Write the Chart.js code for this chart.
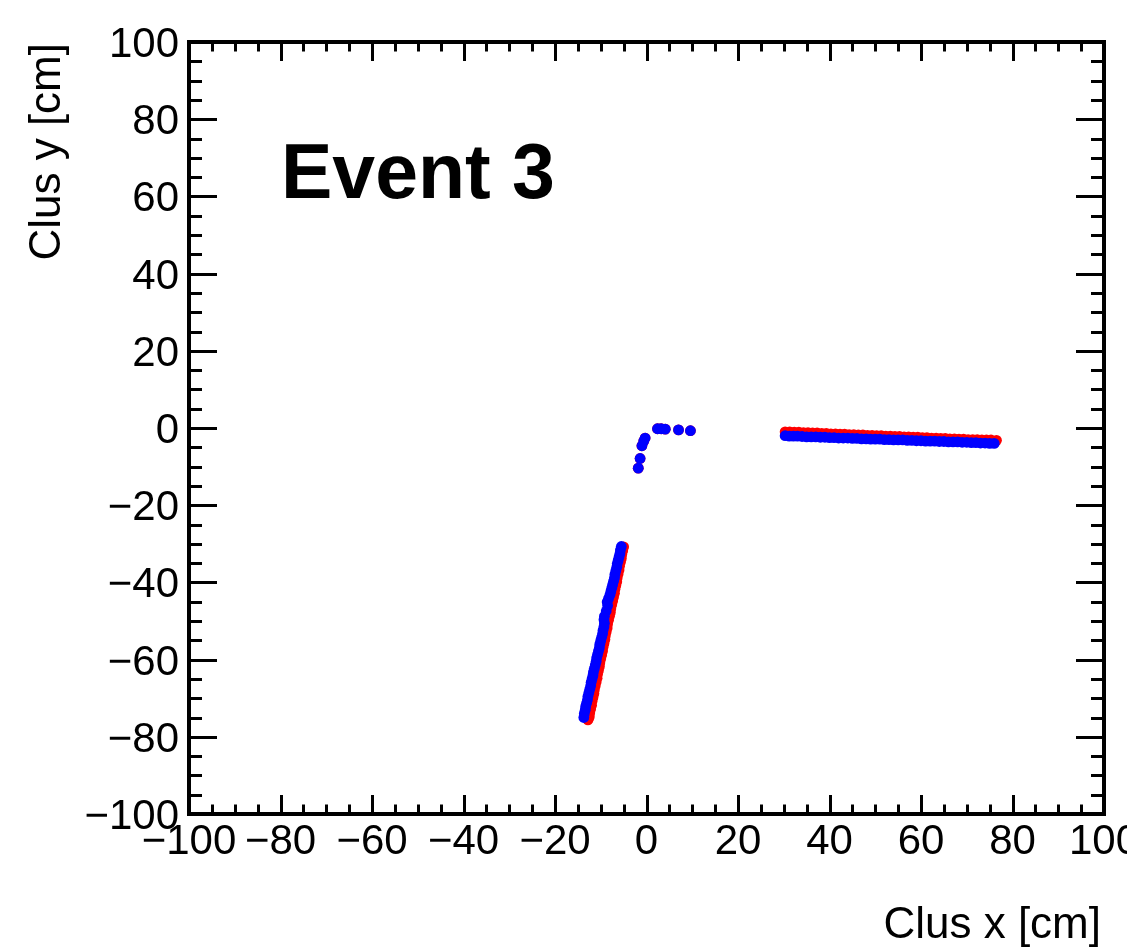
<!DOCTYPE html>
<html>
<head>
<meta charset="utf-8">
<script src="https://cdn.jsdelivr.net/npm/chart.js@4/dist/chart.umd.min.js"></script>
<style>
  html, body { margin: 0; padding: 0; background: #ffffff; }
  #wrap { width: 1127px; height: 951px; position: relative; }
</style>
</head>
<body>
<div id="wrap"><canvas id="c" width="1127" height="951"></canvas></div>
<script>
// Cluster positions (cm): two straight tracks plus a short curled segment near the origin
const clusX = [
  // steep track, lower left
  -5.5, -5.7, -5.8, -6.0, -6.2, -6.4, -6.5, -6.7, -6.9, -7.0,
  -7.2, -7.4, -7.6, -7.8, -8.0, -8.3, -8.6, -8.5, -8.8, -9.2,
  -9.3, -9.2, -9.3, -9.5, -9.6, -9.8, -10.0, -10.2, -10.3, -10.5,
  -10.7, -10.9, -11.0, -11.2, -11.4, -11.6, -11.7, -11.9, -12.1, -12.2,
  -12.4, -12.6, -12.8, -12.9, -13.1, -13.3, -13.4, -13.6, -13.7,
  // curl near origin
  -1.8, -1.4, -1.0, -0.6, -0.3, 2.4, 3.2, 4.1, 7.0, 9.6,
  // flat track, right
  30.3, 31.2, 32.1, 33.0, 34.0, 35.0, 36.0, 37.0, 38.0, 39.0,
  40.0, 41.0, 42.0, 43.0, 44.0, 45.0, 46.0, 47.0, 48.0, 49.0,
  50.0, 51.0, 52.0, 53.0, 54.0, 55.0, 56.0, 57.0, 58.0, 59.0,
  60.0, 61.0, 62.0, 63.0, 64.0, 65.0, 66.0, 67.0, 68.0, 69.0,
  70.0, 71.0, 72.0, 73.0, 74.0, 75.0, 76.0
];
const clusY = [
  -30.7, -31.6, -32.5, -33.4, -34.3, -35.2, -36.1, -37.0, -37.9, -38.8,
  -39.7, -40.6, -41.5, -42.4, -43.3, -44.2, -45.1, -46.0, -47.4, -48.8,
  -49.7, -50.6, -51.5, -52.4, -53.3, -54.2, -55.1, -56.0, -56.9, -57.8,
  -58.7, -59.6, -60.5, -61.4, -62.3, -63.2, -64.1, -65.0, -65.9, -66.8,
  -67.7, -68.6, -69.5, -70.4, -71.3, -72.2, -73.1, -74.0, -75.0,
  -10.4, -7.9, -4.6, -3.4, -2.6, -0.2, -0.2, -0.3, -0.5, -0.7,
  -2.0, -2.1, -2.1, -2.1, -2.2, -2.3, -2.3, -2.3, -2.4, -2.4,
  -2.5, -2.5, -2.6, -2.6, -2.6, -2.7, -2.7, -2.8, -2.8, -2.9,
  -2.9, -2.9, -3.0, -3.0, -3.1, -3.1, -3.1, -3.2, -3.2, -3.3,
  -3.3, -3.4, -3.4, -3.4, -3.5, -3.5, -3.6, -3.6, -3.6, -3.7,
  -3.7, -3.8, -3.8, -3.9, -3.9, -4.0, -4.0
];

// True hit positions (cm)
const hitX = [
  -5.0, -5.2, -5.4, -5.5, -5.7, -5.9, -6.0, -6.2, -6.4, -6.5,
  -6.7, -6.9, -7.0, -7.2, -7.4, -7.6, -7.8, -7.9, -8.1, -8.3,
  -8.5, -8.6, -8.8, -9.0, -9.1, -9.3, -9.5, -9.6, -9.8, -10.0,
  -10.2, -10.3, -10.5, -10.7, -10.8, -11.0, -11.2, -11.4, -11.5, -11.7,
  -11.9, -12.0, -12.2, -12.4, -12.5, -12.7, -12.8,
  -1.8, -1.4, -1.0, -0.6, -0.3, 2.4, 3.2, 4.1, 7.0, 9.6,
  30.3, 31.3, 32.3, 33.3, 34.3, 35.3, 36.3, 37.3, 38.3, 39.3,
  40.3, 41.3, 42.3, 43.3, 44.3, 45.3, 46.3, 47.3, 48.3, 49.3,
  50.3, 51.3, 52.3, 53.3, 54.3, 55.3, 56.3, 57.3, 58.3, 59.3,
  60.3, 61.3, 62.3, 63.3, 64.3, 65.3, 66.3, 67.3, 68.3, 69.3,
  70.3, 71.3, 72.3, 73.3, 74.3, 75.3, 76.5
];
const hitY = [
  -30.8, -31.8, -32.8, -33.8, -34.8, -35.8, -36.8, -37.8, -38.8, -39.8,
  -40.8, -41.8, -42.8, -43.8, -44.8, -45.8, -46.8, -47.8, -48.8, -49.8,
  -50.8, -51.8, -52.8, -53.8, -54.8, -55.8, -56.8, -57.8, -58.8, -59.8,
  -60.8, -61.8, -62.8, -63.8, -64.8, -65.8, -66.8, -67.8, -68.8, -69.8,
  -70.8, -71.8, -72.8, -73.8, -74.8, -75.3, -75.6,
  -10.4, -7.9, -4.6, -3.4, -2.6, -0.2, -0.2, -0.3, -0.5, -0.7,
  -1.0, -1.0, -1.1, -1.1, -1.2, -1.2, -1.3, -1.3, -1.4, -1.4,
  -1.5, -1.5, -1.6, -1.6, -1.7, -1.7, -1.8, -1.8, -1.9, -1.9,
  -2.0, -2.0, -2.1, -2.1, -2.2, -2.2, -2.3, -2.3, -2.4, -2.4,
  -2.5, -2.5, -2.6, -2.6, -2.7, -2.7, -2.8, -2.8, -2.9, -2.9,
  -3.0, -3.0, -3.0, -3.1, -3.1, -3.1, -3.2
];

// Raw readout hits (cm), drawn small underneath
const rawX = [
  -4.6, -5.3, -6.0, -6.7, -7.4, -8.1, -8.8, -9.5, -10.2, -10.9, -11.6, -12.3,
  44.0, 48.0, 52.0, 56.0, 60.0, 64.0, 68.0, 72.0, 76.2
];
const rawY = [
  -31.2, -35.0, -38.8, -42.6, -46.4, -50.2, -54.0, -57.8, -61.6, -65.4, -69.2, -73.0,
  -1.4, -1.6, -1.7, -1.9, -2.1, -2.3, -2.4, -2.6, -2.8
];

const xTicks = [-100, -80, -60, -40, -20, 0, 20, 40, 60, 80, 100];
const yTicks = [-100, -80, -60, -40, -20, 0, 20, 40, 60, 80, 100];
const minorStep = 5;
const xTitle = 'Clus x [cm]';
const yTitle = 'Clus y [cm]';
const eventLabel = 'Event 3';

const toPoints = (xs, ys) => xs.map((x, i) => ({ x: x, y: ys[i] }));
const fmt = v => (v < 0 ? '\u2212' + Math.abs(v) : String(v));

// Frame, inward ticks on all four sides, tick labels and axis titles
const framePlugin = {
  id: 'rootFrame',
  afterDatasetsDraw(chart) {
    const ctx = chart.ctx;
    const a = chart.chartArea;
    const sx = chart.scales.x, sy = chart.scales.y;
    ctx.save();
    ctx.strokeStyle = '#000';
    ctx.fillStyle = '#000';

    // ticks
    ctx.lineWidth = 3;
    ctx.beginPath();
    for (let v = sx.min; v <= sx.max + 1e-9; v += minorStep) {
      const px = Math.round(sx.getPixelForValue(v)) + 0.5;
      const len = (v % 20 === 0) ? 19 : 9.5;
      ctx.moveTo(px, a.bottom); ctx.lineTo(px, a.bottom - len);
      ctx.moveTo(px, a.top); ctx.lineTo(px, a.top + len);
    }
    for (let v = sy.min; v <= sy.max + 1e-9; v += minorStep) {
      const py = Math.round(sy.getPixelForValue(v)) + 0.5;
      const len = (v % 20 === 0) ? 28 : 13;
      ctx.moveTo(a.left, py); ctx.lineTo(a.left + len, py);
      ctx.moveTo(a.right, py); ctx.lineTo(a.right - len, py);
    }
    ctx.stroke();

    // frame
    ctx.lineWidth = 4;
    ctx.strokeRect(a.left, a.top, a.right - a.left, a.bottom - a.top);

    // tick labels
    ctx.font = '42px "Liberation Sans", Arial, Helvetica, sans-serif';
    ctx.textBaseline = 'alphabetic';
    ctx.textAlign = 'center';
    xTicks.forEach(v => {
      ctx.fillText(fmt(v), sx.getPixelForValue(v), a.bottom + 40);
    });
    ctx.textAlign = 'right';
    yTicks.forEach(v => {
      ctx.fillText(fmt(v), a.left - 10, sy.getPixelForValue(v) + 15);
    });

    // axis titles
    ctx.font = '44px "Liberation Sans", Arial, Helvetica, sans-serif';
    ctx.textAlign = 'right';
    ctx.fillText(xTitle, 1101, 938);
    ctx.save();
    ctx.translate(60, 43);
    ctx.rotate(-Math.PI / 2);
    ctx.textAlign = 'right';
    ctx.fillText(yTitle, 0, 0);
    ctx.restore();

    // event label
    ctx.font = 'bold 77px "Liberation Sans", Arial, Helvetica, sans-serif';
    ctx.textAlign = 'left';
    ctx.fillText(eventLabel, 281, 198);
    ctx.restore();
  }
};

new Chart(document.getElementById('c'), {
  type: 'scatter',
  data: {
    datasets: [
      {
        label: 'Clusters',
        data: toPoints(clusX, clusY),
        backgroundColor: '#0000ff',
        borderWidth: 0,
        pointRadius: 5.4,
        order: 0
      },
      {
        label: 'Hits',
        data: toPoints(hitX, hitY),
        backgroundColor: '#ff0000',
        borderWidth: 0,
        pointRadius: 5.4,
        order: 1
      },
      {
        label: 'Raw',
        data: toPoints(rawX, rawY),
        backgroundColor: '#000000',
        borderWidth: 0,
        pointRadius: 2.5,
        order: 2
      }
    ]
  },
  options: {
    responsive: false,
    animation: false,
    events: [],
    layout: { padding: { left: 189, right: 23, top: 42, bottom: 137 } },
    plugins: { legend: { display: false }, tooltip: { enabled: false } },
    scales: {
      x: { type: 'linear', min: -100, max: 100, display: false },
      y: { type: 'linear', min: -100, max: 100, display: false }
    }
  },
  plugins: [framePlugin]
});
</script>
</body>
</html>
